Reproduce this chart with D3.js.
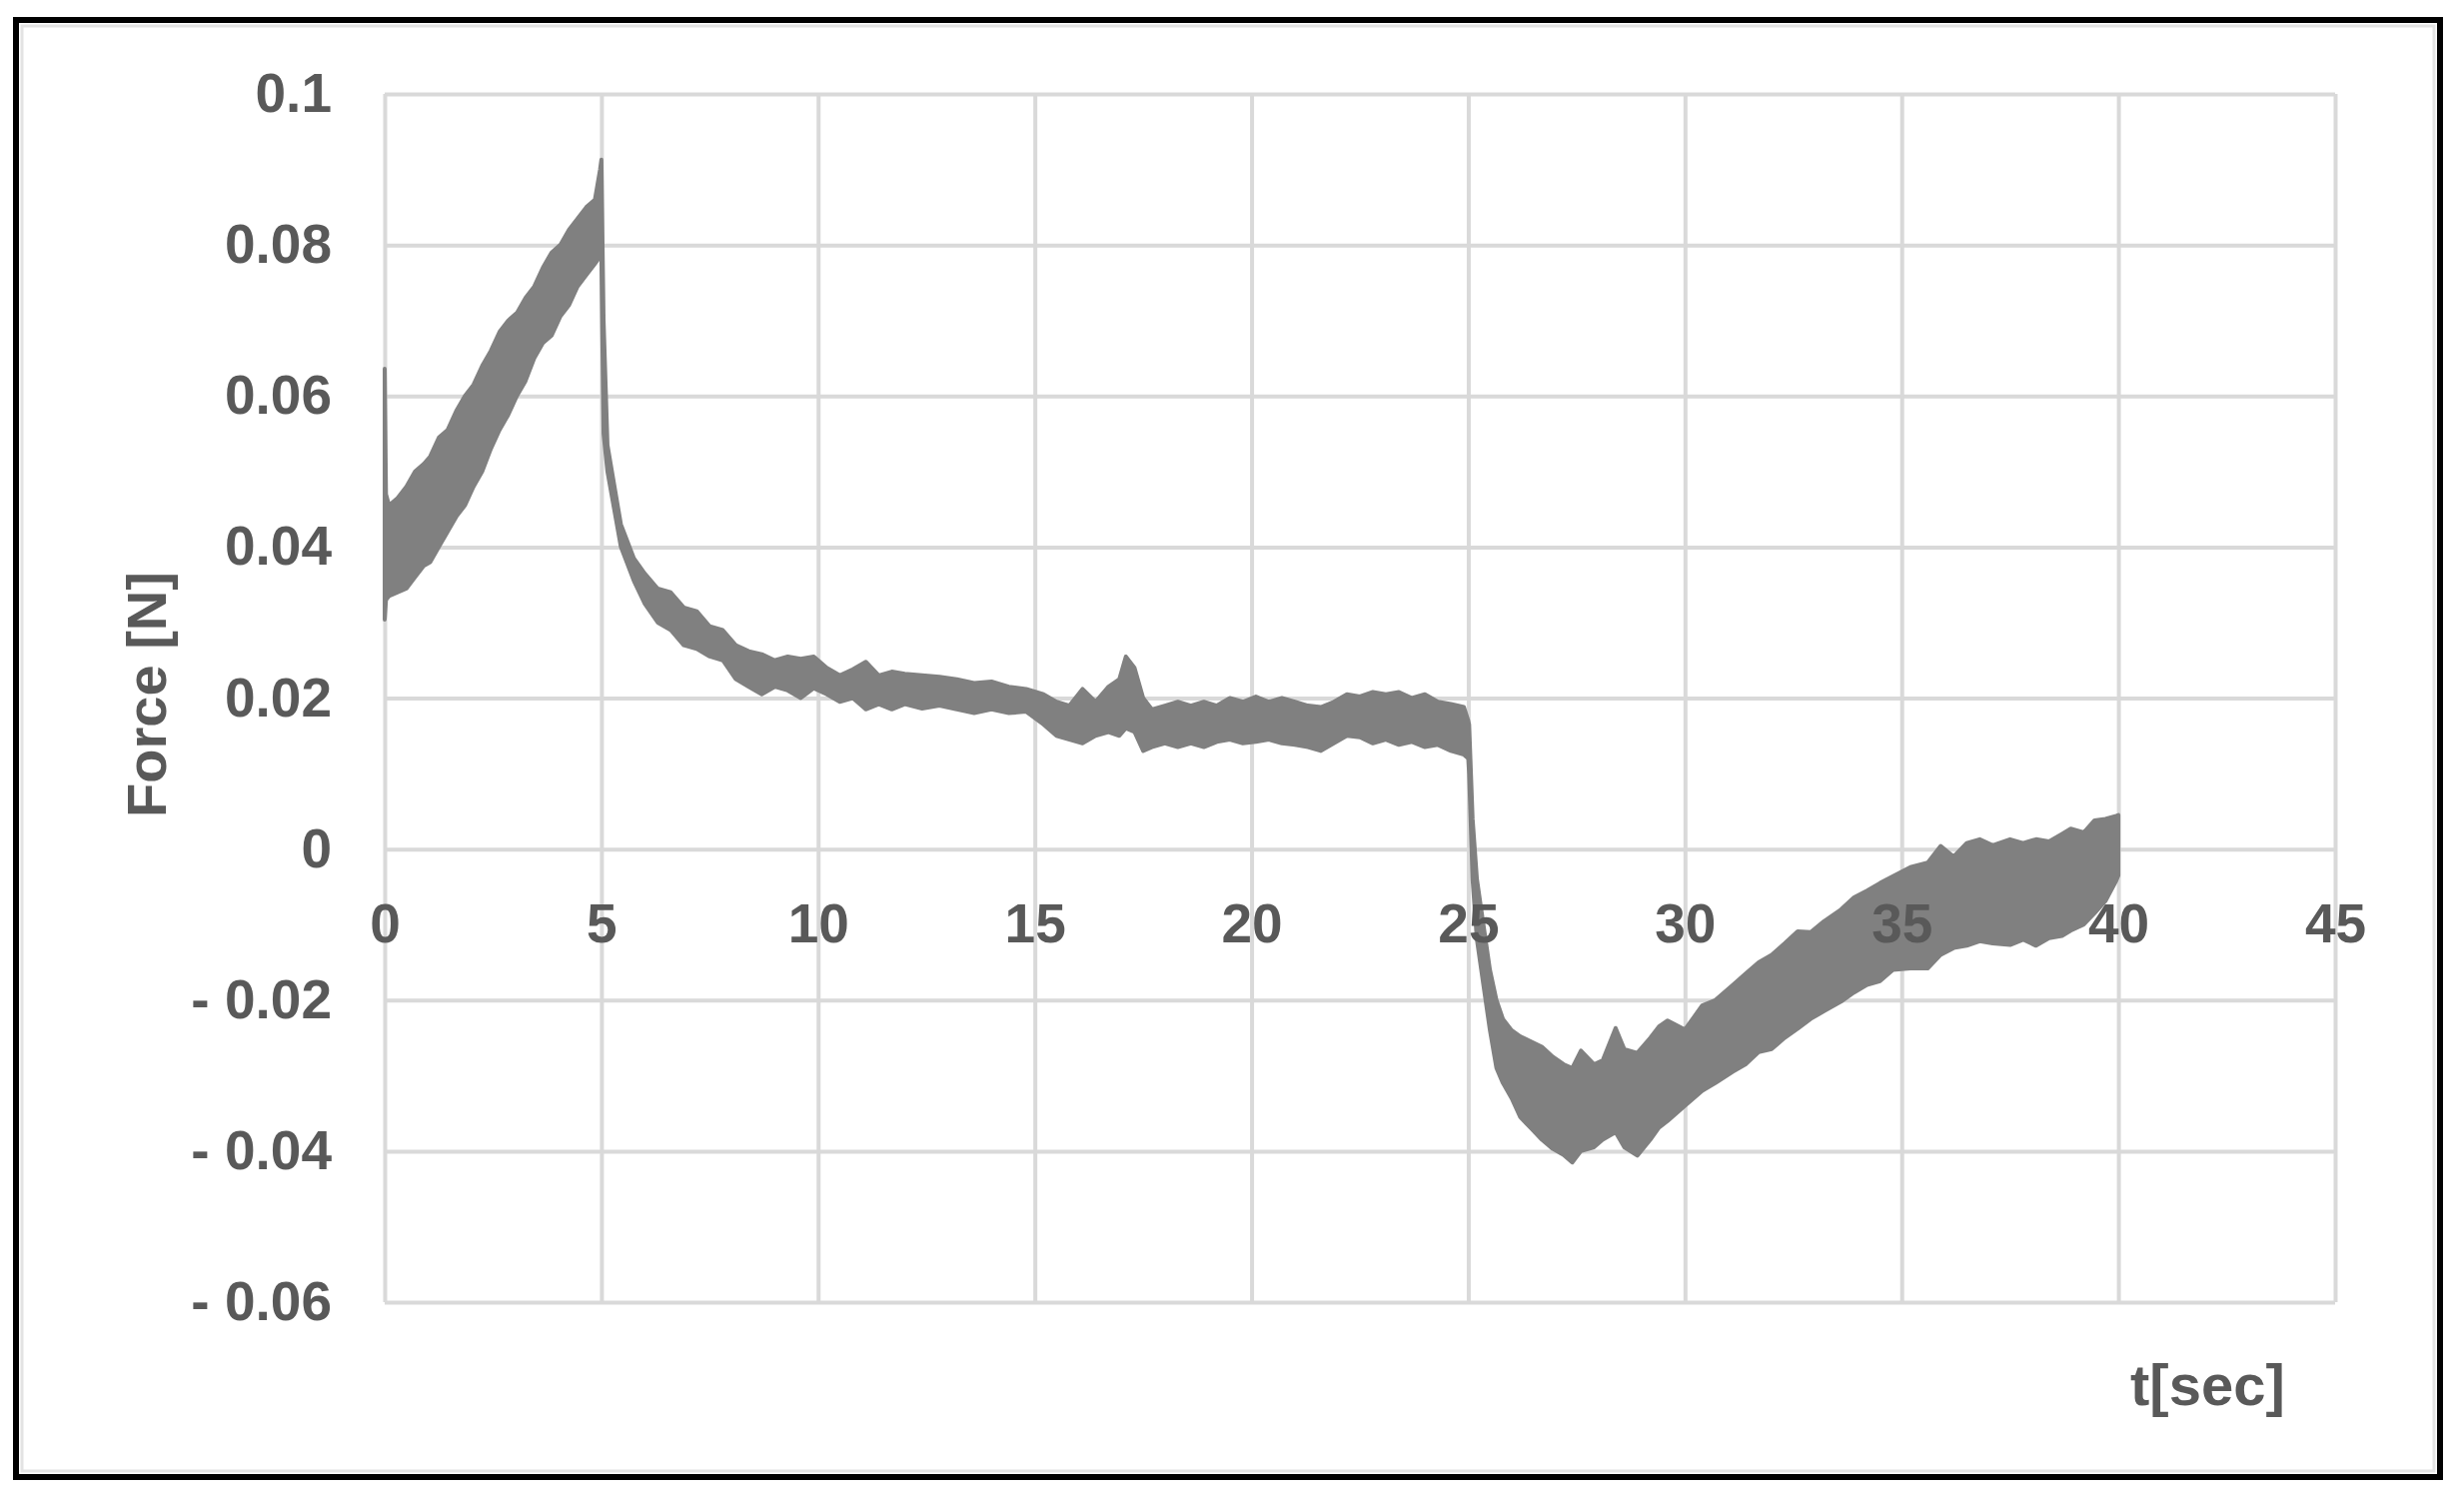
<html>
<head>
    <style>
        body { margin: 0; background: #fff; }
        text { font-family: "Liberation Sans", Arial, sans-serif; }
    </style>
    <script src="https://cdn.jsdelivr.net/npm/d3@7"></script>
</head>

<body>
    <svg id="container" width="2466" height="1509">
        <g id="body"></g>
    </svg>
</body>
<script>
    // axis ticks
    let xTicks = [0, 5, 10, 15, 20, 25, 30, 35, 40, 45]
    let yTicks = [-0.06, -0.04, -0.02, 0, 0.02, 0.04, 0.06, 0.08, 0.1]
    let yTickLabels = ["- 0.06", "- 0.04", "- 0.02", "0", "0.02", "0.04", "0.06", "0.08", "0.1"]

    let timeSec = [
        0.00, 0.03, 0.10, 0.30, 0.50, 0.70, 0.90, 1.05, 1.25, 1.45, 1.65, 1.85, 2.05, 2.25, 2.45,
        2.65, 2.85, 3.05, 3.25, 3.45, 3.65, 3.85, 4.05, 4.25, 4.45, 4.65, 4.85, 4.97, 5.00, 5.05,
        5.14, 5.45, 5.75, 6.00, 6.30, 6.60, 6.90, 7.20, 7.50, 7.80, 8.10, 8.40, 8.70, 9.00, 9.30,
        9.60, 9.90, 10.2, 10.5, 10.8, 11.1, 11.4, 11.7, 12.0, 12.4, 12.8, 13.2, 13.6, 14.0, 14.4,
        14.8, 15.2, 15.5, 15.8, 16.1, 16.4, 16.7, 16.95, 17.1, 17.3, 17.5, 17.7, 18.0, 18.3, 18.6,
        18.9, 19.2, 19.5, 19.8, 20.1, 20.4, 20.7, 21.0, 21.3, 21.6, 21.9, 22.2, 22.5, 22.8, 23.1,
        23.4, 23.7, 24.0, 24.3, 24.6, 24.9, 25.0, 25.02, 25.10, 25.20, 25.35, 25.50, 25.65, 25.8,
        26.0, 26.2, 26.45, 26.7, 26.95, 27.2, 27.4, 27.6, 27.9, 28.1, 28.4, 28.6, 28.9, 29.2,
        29.4, 29.6, 30.0, 30.4, 30.7, 31.1, 31.4, 31.7, 32.0, 32.3, 32.6, 32.9, 33.2, 33.6, 33.9,
        34.2, 34.5, 34.8, 35.2, 35.6, 35.9, 36.2, 36.5, 36.8, 37.1, 37.5, 37.8, 38.1, 38.4, 38.7,
        38.9, 39.2, 39.45, 39.7, 39.95, 40.0
    ]
    let forceHigh = [
        0.0636, 0.0470, 0.0455, 0.0465, 0.0480, 0.0500, 0.0510, 0.0520, 0.0545, 0.0555, 0.0580, 0.0600, 0.0615, 0.0640, 0.0660,
        0.0685, 0.0700, 0.0710, 0.0730, 0.0745, 0.0770, 0.0790, 0.0800, 0.0820, 0.0835, 0.0850, 0.0860, 0.0900, 0.0913, 0.0700,
        0.0535, 0.0430, 0.0385, 0.0365, 0.0345, 0.0340, 0.0320, 0.0315, 0.0295, 0.0290, 0.0270, 0.0262, 0.0258, 0.0250, 0.0255,
        0.0252, 0.0255, 0.0240, 0.0230, 0.0238, 0.0248, 0.0230, 0.0235, 0.0232, 0.0230, 0.0228, 0.0225, 0.0220, 0.0222, 0.0215,
        0.0212, 0.0205, 0.0195, 0.0190, 0.0212, 0.0195, 0.0215, 0.0225, 0.0255, 0.0240, 0.0200, 0.0185, 0.0190, 0.0195, 0.0190,
        0.0195, 0.0190, 0.0200, 0.0195, 0.0202, 0.0195, 0.0200, 0.0195, 0.0190, 0.0188, 0.0195, 0.0205, 0.0202, 0.0208, 0.0205,
        0.0208, 0.0200, 0.0205, 0.0195, 0.0192, 0.0188, 0.0170, 0.0165, 0.0040, -0.0040, -0.0100, -0.0160, -0.0200, -0.0225,
        -0.0240, -0.0248, -0.0255, -0.0262, -0.0275, -0.0285, -0.0290, -0.0267, -0.0285, -0.0280, -0.0237, -0.0265, -0.0270, -0.0250,
        -0.0235, -0.0227, -0.0239, -0.0207, -0.0200, -0.0180, -0.0165, -0.0150, -0.0140, -0.0125, -0.0109, -0.0110, -0.0096, -0.0080, -0.0064,
        -0.0055, -0.0045, -0.0036, -0.0024, -0.0018, 0.0004, -0.0010, 0.0008, 0.0013, 0.0005, 0.0013, 0.0008, 0.0013, 0.0010, 0.0020,
        0.0027, 0.0022, 0.0038, 0.0040, 0.0044, 0.0045
    ]
    let forceLow = [
        0.0304, 0.0330, 0.0335, 0.0340, 0.0345, 0.0360, 0.0375, 0.0380, 0.0400, 0.0420, 0.0440, 0.0455, 0.0480, 0.0500, 0.0530,
        0.0555, 0.0575, 0.0600, 0.0620, 0.0650, 0.0670, 0.0680, 0.0705, 0.0720, 0.0745, 0.0760, 0.0775, 0.0785, 0.0780, 0.0550,
        0.0500, 0.0400, 0.0355, 0.0325, 0.0300, 0.0290, 0.0270, 0.0265, 0.0255, 0.0250, 0.0225, 0.0215, 0.0205, 0.0215, 0.0210,
        0.0200, 0.0213, 0.0205, 0.0195, 0.0200, 0.0185, 0.0192, 0.0185, 0.0192, 0.0186, 0.0190, 0.0185, 0.0180, 0.0185, 0.0180,
        0.0182, 0.0165, 0.0150, 0.0145, 0.0140, 0.0150, 0.0155, 0.0150, 0.0160, 0.0155, 0.0130, 0.0135, 0.0140, 0.0135, 0.0140,
        0.0135, 0.0142, 0.0145, 0.0140, 0.0142, 0.0145, 0.0140, 0.0138, 0.0135, 0.0130, 0.0140, 0.0150, 0.0148, 0.0140, 0.0145,
        0.0138, 0.0142, 0.0135, 0.0138, 0.0130, 0.0125, 0.0120, 0.0100, -0.0040, -0.0120, -0.0180, -0.0240, -0.0290, -0.0310,
        -0.0330, -0.0355, -0.0370, -0.0385, -0.0397, -0.0405, -0.0415, -0.0400, -0.0395, -0.0385, -0.0375, -0.0395, -0.0406, -0.0385,
        -0.0369, -0.0360, -0.0340, -0.0320, -0.0310, -0.0295, -0.0285, -0.0269, -0.0265, -0.0250, -0.0238, -0.0225, -0.0215, -0.0202, -0.0190,
        -0.0180, -0.0175, -0.0160, -0.0158, -0.0158, -0.0140, -0.0131, -0.0128, -0.0122, -0.0125, -0.0127, -0.0120, -0.0128, -0.0118, -0.0115,
        -0.0108, -0.0100, -0.0085, -0.0069, -0.0042, -0.0035
    ]

    let svg = d3.select("#container")
    let body = d3.select("#body")

    // outer frame
    svg.insert("rect", "#body")
        .attr("x", 16).attr("y", 20).attr("width", 2426).attr("height", 1458)
        .attr("fill", "#fff").attr("stroke", "#000").attr("stroke-width", 6)
    svg.insert("rect", "#body")
        .attr("x", 22).attr("y", 26).attr("width", 2414).attr("height", 1446)
        .attr("fill", "none").attr("stroke", "#e3e3e3").attr("stroke-width", 3)

    let plotLeft = 385, plotRight = 2337, plotTop = 94, plotBottom = 1303

    let x = d3.scaleLinear().domain([0, 45]).range([plotLeft, plotRight])
    let y = d3.scaleLinear().domain([-0.06, 0.1]).range([plotBottom, plotTop])

    // gridlines
    let gridY = body.append("g")
        .attr("transform", `translate(${plotLeft},0)`)
        .call(d3.axisLeft(y).tickValues(yTicks).tickSize(-(plotRight - plotLeft)).tickFormat(""))
    let gridX = body.append("g")
        .attr("transform", `translate(0,${plotBottom})`)
        .call(d3.axisBottom(x).tickValues(xTicks).tickSize(-(plotBottom - plotTop)).tickFormat(""))
    for (let g of [gridY, gridX]) {
        g.select(".domain").remove()
        g.selectAll("line").attr("stroke", "#d9d9d9").attr("stroke-width", 4)
    }

    // signal band
    let data = timeSec.map((t, i) => ({ t: t, hi: forceHigh[i], lo: forceLow[i] }))
    let area = d3.area()
        .x(d => x(d.t))
        .y0(d => y(d.lo))
        .y1(d => y(d.hi))
    body.append("path")
        .datum(data)
        .attr("d", area)
        .attr("fill", "#808080")
        .attr("stroke", "#808080")
        .attr("stroke-width", 4)
        .attr("stroke-linejoin", "round")

    // tick labels
    let yAxis = body.append("g")
        .attr("transform", `translate(${plotLeft},0)`)
        .call(d3.axisLeft(y).tickValues(yTicks).tickSize(0).tickPadding(53)
            .tickFormat((d, i) => yTickLabels[i]))
    let xAxis = body.append("g")
        .attr("transform", `translate(0,${y(0)})`)
        .call(d3.axisBottom(x).tickValues(xTicks).tickSize(0).tickPadding(54))
    for (let g of [yAxis, xAxis]) {
        g.select(".domain").remove()
        g.selectAll("text")
            .attr("fill", "#595959")
            .style("font-family", '"Liberation Sans", Arial, sans-serif')
            .style("font-size", "55px")
            .style("font-weight", "bold")
    }

    // axis titles
    body.append("text")
        .attr("transform", "translate(166,695) rotate(-90)")
        .attr("text-anchor", "middle")
        .attr("fill", "#595959")
        .style("font-size", "56px")
        .style("font-weight", "bold")
        .text("Force [N]")
    body.append("text")
        .attr("x", 2132).attr("y", 1406)
        .attr("fill", "#595959")
        .style("font-size", "58px")
        .style("font-weight", "bold")
        .text("t[sec]")
</script>
</html>
